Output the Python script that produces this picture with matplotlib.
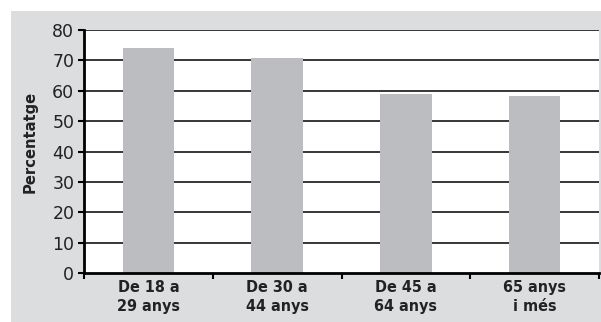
import matplotlib
matplotlib.use("Agg")
from matplotlib import pyplot as plt
from matplotlib.patches import Rectangle

categories = ["De 18 a\n29 anys", "De 30 a\n44 anys", "De 45 a\n64 anys", "65 anys\ni més"]
values = [74.0, 70.7, 58.8, 58.2]
yticks = [0, 10, 20, 30, 40, 50, 60, 70, 80]

plt.rcParams['font.family'] = ['DejaVu Sans']
plt.rcParams['font.stretch'] = 'condensed'

W, H = 601, 322
fig = plt.figure(figsize=(W / 100, H / 100), dpi=100)
fig.patch.set_facecolor("white")
# grey panel behind the chart
bg = Rectangle((11 / W, 0), 1 - 11 / W, 1 - 11 / H, transform=fig.transFigure,
               facecolor="#dcdddf", edgecolor="none", zorder=-10)
fig.add_artist(bg)

ax = fig.add_axes([84 / W, (H - 273.3) / H, (599 - 84) / W, 243.3 / H])
ax.set_facecolor("white")

x = list(range(len(categories)))
ax.bar(x, values, width=0.40, color="#bcbdc0", zorder=3)

ax.set_xlim(-0.5, len(categories) - 0.5)
ax.set_ylim(0, 80)
ax.set_yticks(yticks)
ax.set_yticklabels([str(v) for v in yticks], fontsize=12.5, fontstretch="normal",
                   color="#222222")
for v in yticks[1:]:
    ax.axhline(v, color="black", lw=1.1, zorder=1)

ax.set_xticks(x)
ax.set_xticklabels(categories, fontsize=11.5, fontweight="bold", linespacing=1.3,
                   color="#222222")
ax.tick_params(axis="x", length=0, pad=5)
ax.set_xticks([i - 0.5 for i in range(len(categories) + 1)], minor=True)
ax.tick_params(axis="x", which="minor", length=4, width=1.5, direction="out")
ax.tick_params(axis="y", length=4, width=1.5, direction="out", pad=3)

for s in ["top", "right"]:
    ax.spines[s].set_visible(False)
ax.spines["left"].set_linewidth(2)
ax.spines["bottom"].set_linewidth(2)
ax.spines["left"].set_zorder(4)
ax.spines["bottom"].set_zorder(4)

fig.text(30 / W, 1 - 142 / H, "Percentatge", rotation=90, fontsize=11.8,
         fontweight="bold", ha="center", va="center", color="#222222")

fig.savefig("out.png", dpi=100)
